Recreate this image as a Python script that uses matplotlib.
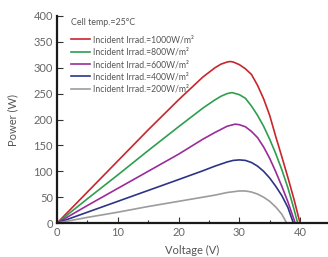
import matplotlib
matplotlib.use("Agg")
import matplotlib.pyplot as plt
from matplotlib.ticker import MultipleLocator

# ── data (voltage V, power W) ────────────────────────────────────────────────
v_1000 = [0, 5, 10, 15, 20, 24, 26, 27, 28, 28.5, 29, 30, 31, 32, 33, 34, 35, 36, 37, 38, 39, 40]
p_1000 = [0, 60, 120, 180, 238, 282, 300, 307, 311, 312, 311, 306, 298, 287, 266, 240, 208, 167, 128, 88, 46, 0]

v_800 = [0, 5, 10, 15, 20, 24, 26, 27, 28, 28.8, 30, 31, 32, 33, 34, 35, 36, 37, 38, 39, 39.6]
p_800 = [0, 47, 93, 140, 186, 222, 238, 245, 250, 252, 248, 241, 226, 208, 187, 162, 134, 103, 68, 27, 0]

v_600 = [0, 5, 10, 15, 20, 24, 26, 27, 28, 29.3, 30, 31, 32, 33, 34, 35, 36, 37, 38, 39.2]
p_600 = [0, 34, 67, 100, 133, 162, 175, 181, 187, 191, 190, 186, 177, 165, 147, 125, 99, 71, 41, 0]

v_400 = [0, 5, 10, 15, 20, 24, 26, 27, 28, 29, 30, 31, 32, 33, 34, 35, 36, 37, 38, 38.9]
p_400 = [0, 21, 42, 63, 84, 101, 110, 114, 118, 121, 122, 121, 117, 110, 100, 87, 71, 53, 30, 0]

v_200 = [0, 5, 10, 15, 20, 24, 26, 28, 30, 31, 32, 33, 34, 35, 36, 37, 37.8]
p_200 = [0, 11, 21, 32, 42, 50, 54, 59, 62, 62, 60, 56, 50, 42, 31, 17, 0]

labels = ["Incident Irrad.=1000W/m²", "Incident Irrad.=800W/m²",
          "Incident Irrad.=600W/m²", "Incident Irrad.=400W/m²",
          "Incident Irrad.=200W/m²"]
colors = ["#c8262c", "#2e9e4f", "#9a2c99", "#2c3585", "#9c9c9c"]

plt.rcParams["font.family"] = ["Lato", "DejaVu Sans"]

fig = plt.figure(figsize=(3.28, 2.57), dpi=100)
ax = fig.add_axes([0.174, 0.132, 0.826, 0.806])

series = [(v_1000, p_1000), (v_800, p_800), (v_600, p_600), (v_400, p_400), (v_200, p_200)]
for (v, p), c, lab in zip(series, colors, labels):
    ax.plot(v, p, color=c, lw=1.2, label=lab)

ax.set_xlim(0, 44.6)
ax.set_ylim(0, 400)
ax.xaxis.set_major_locator(MultipleLocator(10))
ax.xaxis.set_minor_locator(MultipleLocator(5))
ax.yaxis.set_major_locator(MultipleLocator(50))

for s in ["top", "right"]:
    ax.spines[s].set_visible(False)
for s in ["left", "bottom"]:
    ax.spines[s].set_linewidth(1.6)
    ax.spines[s].set_color("#1a1a1a")

ax.tick_params(axis="both", which="major", direction="in", length=4, width=0.8,
               color="#333333", labelcolor="#666666", labelsize=8, pad=3)
ax.tick_params(axis="x", which="minor", direction="in", length=2.5, width=0.8, color="#333333")

ax.set_xlabel("Voltage (V)", fontsize=8, color="#555555", labelpad=4.5)
ax.set_ylabel("Power (W)", fontsize=8, color="#555555", labelpad=11)

leg = ax.legend(loc="upper left", bbox_to_anchor=(0.03, 1.02), frameon=False,
                title="Cell temp.=25°C", alignment="left", fontsize=6.2,
                title_fontsize=6.4, handlelength=2.2, handletextpad=0.3,
                labelspacing=0.4, borderpad=0.2)
leg._legend_box.sep = 6
for t in leg.get_texts():
    t.set_color("#555555")
leg.get_title().set_color("#555555")

fig.savefig("out.png", dpi=100)
